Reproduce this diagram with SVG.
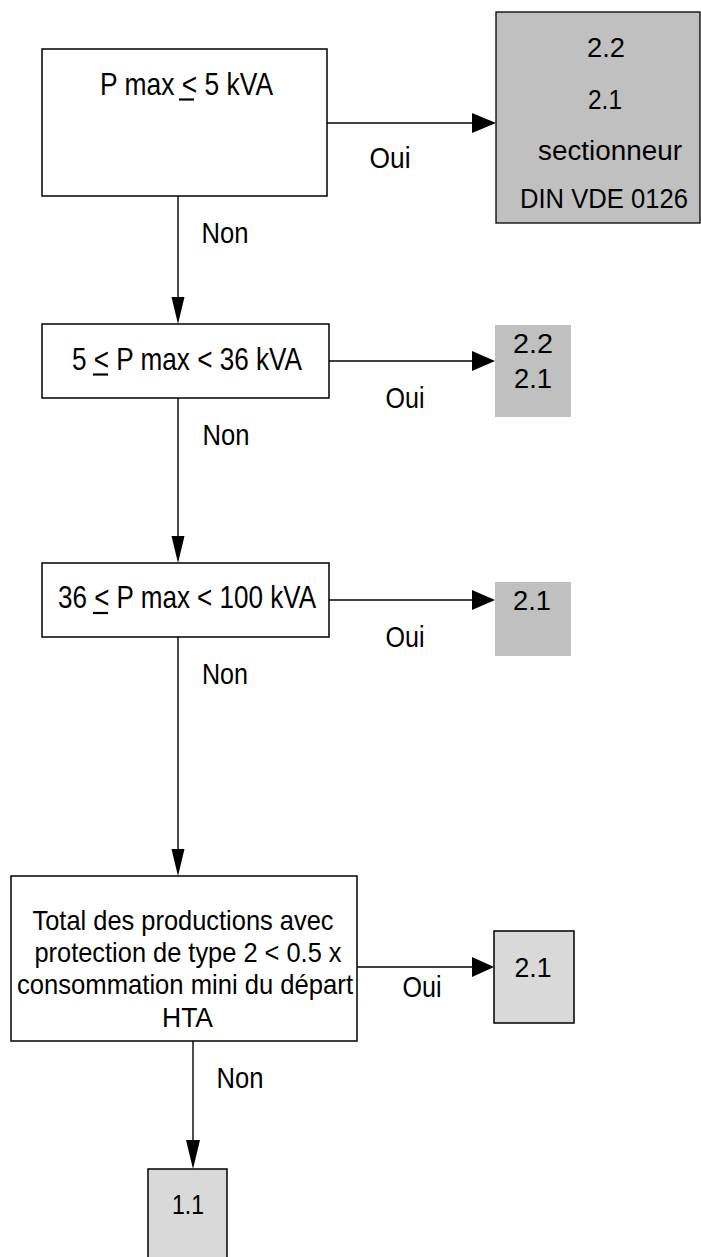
<svg xmlns="http://www.w3.org/2000/svg" width="701" height="1257" viewBox="0 0 701 1257">
<style>
.box{fill:#fff;stroke:#000;stroke-width:1.5}
.g1{fill:#c0c0c0;stroke:#000;stroke-width:1.3}
.g2{fill:#c0c0c0;stroke:none}
.g3{fill:#d9d9d9;stroke:#000;stroke-width:1.5}
.t{font-family:"Liberation Sans",Arial,sans-serif;font-size:32px;fill:#000;text-anchor:middle}
.m{font-family:"Liberation Sans",Arial,sans-serif;font-size:28px;fill:#000;text-anchor:middle}
.n{font-family:"Liberation Sans",Arial,sans-serif;font-size:30px;fill:#000;text-anchor:middle}
.s{font-family:"Liberation Sans",Arial,sans-serif;font-size:27px;fill:#000;text-anchor:middle}
.ln{stroke:#000;stroke-width:1.4;fill:none}
.ul{stroke:#000;stroke-width:2.2}
.ah{fill:#000}
</style>
<rect width="701" height="1257" fill="#fff"/>
<g id="connectors">
<line class="ln" x1="327" y1="123" x2="474" y2="123"/>
<polygon class="ah" points="472,113 496,123 472,133"/>
<line class="ln" x1="329" y1="361" x2="474" y2="361"/>
<polygon class="ah" points="472,351 495,361 472,371"/>
<line class="ln" x1="329" y1="600" x2="474" y2="600"/>
<polygon class="ah" points="472,590 495,600 472,610"/>
<line class="ln" x1="357" y1="967" x2="474" y2="967"/>
<polygon class="ah" points="472,957 494,967 472,977"/>
<line class="ln" x1="178" y1="196" x2="178" y2="300"/>
<polygon class="ah" points="171.5,297 184.5,297 178,324"/>
<line class="ln" x1="178" y1="398" x2="178" y2="540"/>
<polygon class="ah" points="171.5,536 184.5,536 178,563"/>
<line class="ln" x1="178" y1="637" x2="178" y2="852"/>
<polygon class="ah" points="171.5,849 184.5,849 178,876"/>
<line class="ln" x1="193" y1="1041" x2="193" y2="1145"/>
<polygon class="ah" points="186,1140 200,1140 193,1169"/>
<text class="n" x="390" y="168" textLength="41" lengthAdjust="spacingAndGlyphs">Oui</text>
<text class="n" x="405" y="408" textLength="39" lengthAdjust="spacingAndGlyphs">Oui</text>
<text class="n" x="405" y="647" textLength="39" lengthAdjust="spacingAndGlyphs">Oui</text>
<text class="n" x="422" y="997" textLength="39" lengthAdjust="spacingAndGlyphs">Oui</text>
<text class="n" x="225" y="243" textLength="47" lengthAdjust="spacingAndGlyphs">Non</text>
<text class="n" x="226" y="445" textLength="47" lengthAdjust="spacingAndGlyphs">Non</text>
<text class="n" x="225" y="684" textLength="46" lengthAdjust="spacingAndGlyphs">Non</text>
<text class="n" x="240" y="1088" textLength="47" lengthAdjust="spacingAndGlyphs">Non</text>
</g>
<g id="q1">
<rect class="box" x="42" y="49" width="285" height="147"/>
<text class="t" x="186.5" y="95" textLength="173" lengthAdjust="spacingAndGlyphs">P max &lt; 5 kVA</text>
<line class="ul" x1="179" y1="99.5" x2="194" y2="99.5"/>
</g>
<g id="r1">
<rect class="g1" x="496" y="12" width="204" height="211"/>
<text class="s" x="606" y="57" textLength="38" lengthAdjust="spacingAndGlyphs">2.2</text>
<text class="s" x="605" y="109" textLength="34" lengthAdjust="spacingAndGlyphs">2.1</text>
<text class="s" x="610" y="160" textLength="144" lengthAdjust="spacingAndGlyphs">sectionneur</text>
<text class="s" x="604" y="208" textLength="168" lengthAdjust="spacingAndGlyphs">DIN VDE 0126</text>
</g>
<g id="q2">
<rect class="box" x="42" y="324" width="287" height="74"/>
<text class="t" x="187" y="370" textLength="230" lengthAdjust="spacingAndGlyphs">5 &lt; P max &lt; 36 kVA</text>
<line class="ul" x1="93" y1="374.5" x2="108" y2="374.5"/>
</g>
<g id="r2">
<rect class="g2" x="495" y="325" width="76" height="92"/>
<text class="s" x="533" y="353" textLength="40" lengthAdjust="spacingAndGlyphs">2.2</text>
<text class="s" x="533" y="388" textLength="38" lengthAdjust="spacingAndGlyphs">2.1</text>
</g>
<g id="q3">
<rect class="box" x="42" y="563" width="287" height="74"/>
<text class="t" x="187" y="608" textLength="258" lengthAdjust="spacingAndGlyphs">36 &lt; P max &lt; 100 kVA</text>
<line class="ul" x1="93" y1="613" x2="108" y2="613"/>
</g>
<g id="r3">
<rect class="g2" x="495" y="582" width="76" height="74"/>
<text class="s" x="532" y="610" textLength="38" lengthAdjust="spacingAndGlyphs">2.1</text>
</g>
<g id="q4">
<rect class="box" x="11" y="876" width="346" height="165"/>
<text class="m" x="183" y="930" textLength="301" lengthAdjust="spacingAndGlyphs">Total des productions avec</text>
<text class="m" x="188" y="962" textLength="307" lengthAdjust="spacingAndGlyphs">protection de type 2 &lt; 0.5 x</text>
<text class="m" x="185" y="994" textLength="336" lengthAdjust="spacingAndGlyphs">consommation mini du départ</text>
<text class="m" x="187.5" y="1027" textLength="51" lengthAdjust="spacingAndGlyphs">HTA</text>
</g>
<g id="r4">
<rect class="g3" x="494" y="931" width="80" height="92"/>
<text class="s" x="533" y="977" textLength="37" lengthAdjust="spacingAndGlyphs">2.1</text>
</g>
<g id="r5">
<rect class="g3" x="148" y="1169" width="79" height="100"/>
<text class="s" x="188" y="1214" textLength="32" lengthAdjust="spacingAndGlyphs">1.1</text>
</g>
</svg>
